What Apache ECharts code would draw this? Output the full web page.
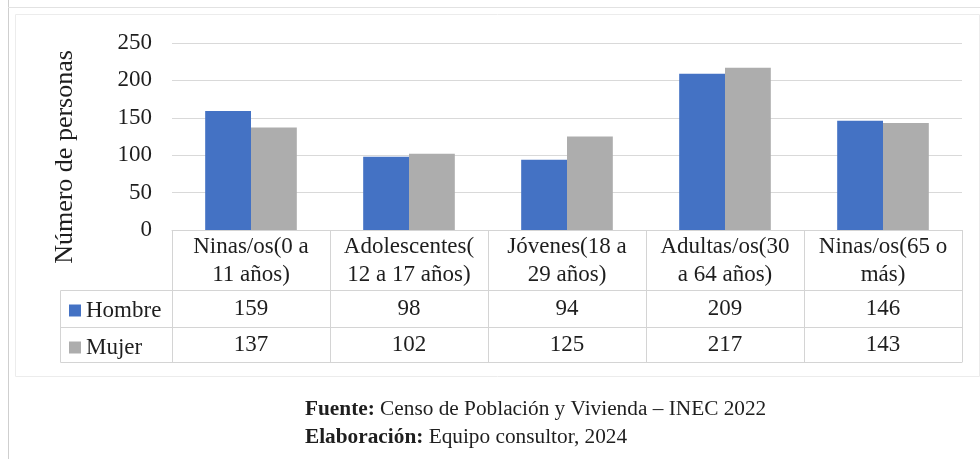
<!DOCTYPE html>
<html>
<head>
<meta charset="utf-8">
<script src="https://cdn.jsdelivr.net/npm/echarts@6/dist/echarts.min.js"></script>
<style>html,body{margin:0;padding:0;background:#fff;}#c{width:980px;height:459px;}</style>
</head>
<body>
<div id="c"></div>
<script>
const categories = ['Ninas/os(0 a\n11 años)', 'Adolescentes(\n12 a 17 años)', 'Jóvenes(18 a\n29 años)', 'Adultas/os(30\na 64 años)', 'Ninas/os(65 o\nmás)'];
const seriesNames = ['Hombre', 'Mujer'];
const hombre = [159, 98, 94, 209, 146];
const mujer = [137, 102, 125, 217, 143];
const yMin = 0, yMax = 250, yStep = 50;
const yTitle = 'Número de personas';
const source1 = 'Censo de Población y Vivienda – INEC 2022';
const source2 = 'Equipo consultor, 2024';

const FONT = 'Liberation Serif';
const LINE = '#d4d4d4';
const TXT = '#1e1e1e';
const L = 172, R = 962, T = 43, B = 230;
const headH = 60, row1H = 37, row2H = 35;
const LC = 60;
const W = 980, H = 459;

const chart = echarts.init(document.getElementById('c'), null, {renderer: 'canvas'});
const baseLabel = {fontFamily: FONT, fontSize: 23, color: TXT};
chart.setOption({
  animation: false,
  textStyle: {fontFamily: FONT},
  title: {
    left: 300, top: 390,
    text: '{b|Fuente:} ' + source1 + '\n{b|Elaboración:} ' + source2,
    textStyle: {fontFamily: FONT, fontSize: 21.3, fontWeight: 'normal', color: TXT, lineHeight: 28,
      rich: {b: {fontFamily: FONT, fontSize: 21.3, fontWeight: 'bold', color: TXT, lineHeight: 28}}}
  },
  legend: {
    orient: 'vertical', left: 64, top: 294, itemWidth: 12, itemHeight: 12, itemGap: 14,
    icon: 'rect', data: seriesNames,
    textStyle: {fontFamily: FONT, fontSize: 23, color: TXT}
  },
  grid: {left: L, right: W - R, top: T, bottom: H - B, containLabel: false},
  xAxis: [
    {type: 'category', data: categories, position: 'bottom',
      axisLine: {show: true, lineStyle: {color: LINE}},
      axisTick: {show: true, length: headH + row1H + row2H, interval: 0, lineStyle: {color: LINE}},
      axisLabel: Object.assign({interval: 0, margin: 3, lineHeight: 28}, baseLabel)},
    {type: 'category', data: categories, position: 'bottom', offset: headH,
      axisLine: {show: true, lineStyle: {color: LINE}}, axisTick: {show: false},
      axisLabel: Object.assign({interval: 0, margin: 8, lineHeight: 22, formatter: (v, i) => String(hombre[i])}, baseLabel)},
    {type: 'category', data: categories, position: 'bottom', offset: headH + row1H,
      axisLine: {show: true, lineStyle: {color: LINE}}, axisTick: {show: false},
      axisLabel: Object.assign({interval: 0, margin: 7, lineHeight: 22, formatter: (v, i) => String(mujer[i])}, baseLabel)},
    {type: 'category', data: categories, position: 'bottom', offset: headH + row1H + row2H,
      axisLine: {show: true, lineStyle: {color: LINE}}, axisTick: {show: false}, axisLabel: {show: false}}
  ],
  yAxis: {
    type: 'value', min: yMin, max: yMax, interval: yStep,
    axisLine: {show: false}, axisTick: {show: false},
    axisLabel: Object.assign({margin: 20}, baseLabel),
    splitLine: {lineStyle: {color: '#d9d9d9', width: 1}}
  },
  series: [
    {name: seriesNames[0], type: 'bar', data: hombre, itemStyle: {color: '#4472c4'}, barGap: '0%', barCategoryGap: '42%'},
    {name: seriesNames[1], type: 'bar', data: mujer, itemStyle: {color: '#adadad'}, barGap: '0%', barCategoryGap: '42%'}
  ],
  graphic: [
    {type: 'line', shape: {x1: 8.5, y1: 0, x2: 8.5, y2: H}, style: {stroke: '#cfcfcf', lineWidth: 1}, silent: true},
    {type: 'line', shape: {x1: 8, y1: 7.5, x2: W, y2: 7.5}, style: {stroke: '#e2e2e2', lineWidth: 1}, silent: true},
    {type: 'rect', shape: {x: 15.5, y: 14.5, width: W - 16, height: 362}, style: {fill: 'none', stroke: '#ececec', lineWidth: 1}, silent: true},
    {type: 'rect', shape: {x: LC + 0.5, y: B + headH + 0.5, width: L - LC, height: row1H + row2H}, style: {fill: 'none', stroke: LINE, lineWidth: 1}, silent: true},
    {type: 'line', shape: {x1: LC, y1: B + headH + row1H + 0.5, x2: L, y2: B + headH + row1H + 0.5}, style: {stroke: LINE, lineWidth: 1}, silent: true},
    {type: 'text', x: 65, y: 157, rotation: Math.PI / 2, silent: true,
      style: {text: yTitle, fontFamily: FONT, fontSize: 26, fill: TXT, align: 'center', verticalAlign: 'middle'}}
  ]
});
</script>
</body>
</html>
